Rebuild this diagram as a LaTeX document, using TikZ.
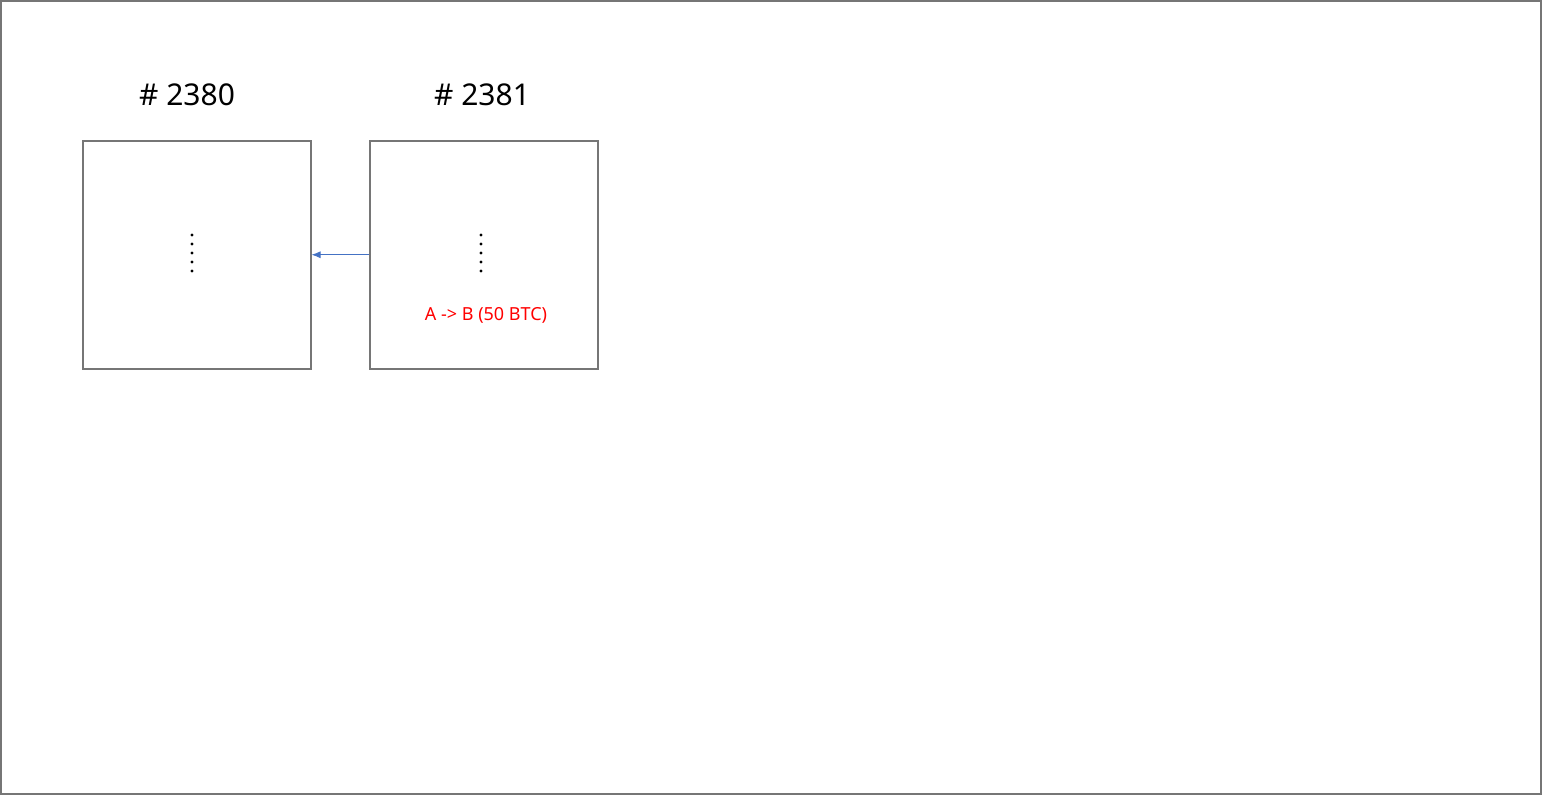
\documentclass[tikz,border=0pt]{standalone}
\usepackage{fontspec}
\setmainfont{Noto Sans}
\usetikzlibrary{arrows.meta}
\definecolor{edge}{RGB}{118,118,118}
\definecolor{arr}{RGB}{68,114,196}
\begin{document}
\begin{tikzpicture}[x=1pt,y=-1pt,
  block/.style={draw=edge,line width=1.5pt,minimum width=228pt,minimum height=228pt,anchor=north west,inner sep=0pt},
  title/.style={font=\fontsize{30}{36}\selectfont}]
\draw[edge,line width=1.5pt] (1,1) rectangle (1541,794);
\useasboundingbox (0,0) rectangle (1542,795);
\node[block] (b0) at (82,140) {};
\node[block] (b1) at (369,140) {};
\node[title] (t0) at (187,95) {\# 2380};
\node[title] (t1) at (482,95) {\# 2381};
\foreach \i in {0,...,4}{
  \fill (192,{235+9*\i}) circle (1.6pt);
  \fill (481,{235+9*\i}) circle (1.6pt);
}
\node[text=red,font=\fontsize{18}{22}\selectfont\bfseries] (tx) at (486,315) {A -> B (50 BTC)};
\draw[arr,line width=0.9pt,-{Latex[length=9pt,width=7pt]}] (b1.west) -- (b0.east);
\end{tikzpicture}
\end{document}
